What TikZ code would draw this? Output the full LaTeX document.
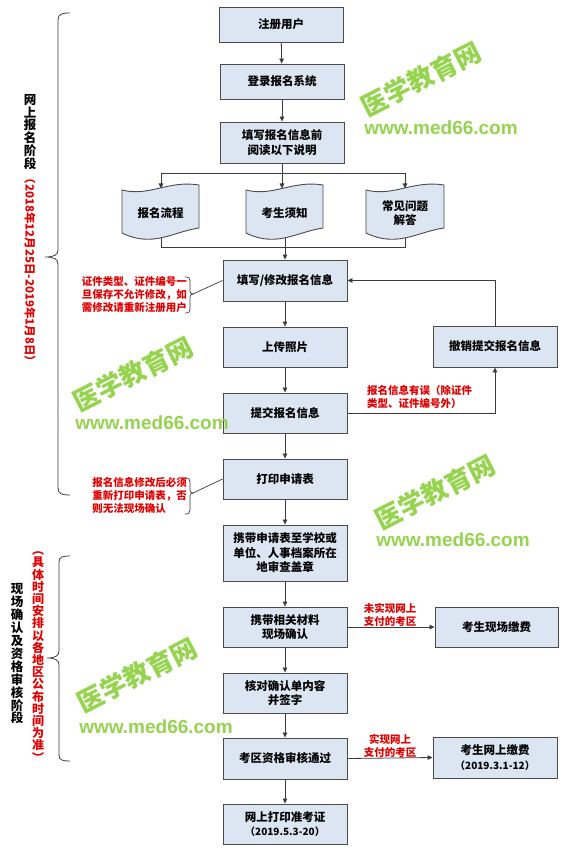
\documentclass[tikz,border=0pt]{standalone}
\usepackage{fontspec}
\setmainfont{Noto Sans CJK SC}
\newfontfamily\wmfont{Liberation Sans}
\usetikzlibrary{arrows.meta}
\definecolor{boxfill}{RGB}{220,230,242}
\definecolor{boxline}{RGB}{75,75,75}
\definecolor{lineclr}{RGB}{60,60,60}
\definecolor{redtxt}{RGB}{225,0,0}
\definecolor{wmgreen}{RGB}{150,212,80}
\tikzset{
  box/.style={draw=boxline, fill=boxfill, line width=0.9pt, minimum width=124pt, minimum height=40pt,
    align=center, inner sep=1pt, font=\fontsize{11.5}{14.5}\selectfont\bfseries},
  arr/.style={draw=lineclr, line width=0.8pt, -{Triangle[length=5pt,width=4.5pt]}},
  ln/.style={draw=lineclr, line width=0.8pt},
  note/.style={text=redtxt, inner sep=0pt, font=\fontsize{10.5}{13}\selectfont\bfseries},
  doc/.style={draw=boxline, fill=boxfill, line width=0.9pt},
  doctext/.style={align=center, inner sep=0pt, font=\fontsize{11.5}{14.5}\selectfont\bfseries},
  stack/.style={align=center, inner sep=0pt},
  wm/.style={text=wmgreen, inner sep=0pt, rotate=27, font=\fontsize{26}{26}\selectfont\bfseries},
  wmurl/.style={text=wmgreen, inner sep=0pt, font=\wmfont\fontsize{19}{19}\selectfont\bfseries}
}
\begin{document}
\begin{tikzpicture}[x=1pt,y=-1pt]
\useasboundingbox[fill=white] (0,0) rectangle (575,850);

% main column
\node[box, minimum height=35pt] (b1) at (281,24.5) {注册用户};
\node[box, minimum height=35pt] (b2) at (282,81.5) {登录报名系统};
\node[box, minimum height=41pt] (b3) at (282,142.5) {填写报名信息前\\阅读以下说明};
\node[box, minimum height=41pt] (b4) at (285,280.5) {填写/修改报名信息};
\node[box] (b5) at (285,347) {上传照片};
\node[box] (b6) at (285,413) {提交报名信息};
\node[box] (b7) at (285,479) {打印申请表};
\node[box, minimum height=56pt] (b8) at (285,553) {携带申请表至学校或\\单位、人事档案所在\\地审查盖章};
\node[box] (b9) at (285,627) {携带相关材料\\现场确认};
\node[box] (b10) at (285,693) {核对确认单内容\\并签字};
\node[box, minimum height=41pt] (b11) at (285,758.5) {考区资格审核通过};
\node[box] (b12) at (285,824) {网上打印准考证\\{\fontsize{10}{13}\selectfont（2019.5.3-20）}};
\node[box, minimum height=41pt] (bx) at (495,346.5) {撤销提交报名信息};
\node[box, minimum width=123pt] (pay1) at (496.5,627) {考生现场缴费};
\node[box, minimum height=41pt] (pay2) at (495,757.5) {考生网上缴费\\{\fontsize{10}{13}\selectfont（2019.3.1-12）}};

% connectors top
\draw[arr] (b1) -- (b2);
\draw[arr] (b2) -- (b3);
\coordinate (sp) at (282,173);
\coordinate (spl) at (161,173);
\coordinate (spr) at (405,173);
\coordinate (jn) at (285,247);
\coordinate (jnl) at (161,247);
\coordinate (jnr) at (405,247);
\draw[ln] (b3.south) -- (sp);
\draw[ln] (spl) -- (spr);
\draw[ln] (161,236) -- (jnl) -- (jnr) -- (405,236);
\draw[ln] (285,236) -- (jn);

% documents
\foreach \x/\w in {122/77, 246/77, 366/78} {
  \draw[doc] (\x,190) .. controls ({\x+0.35*\w},197) and ({\x+0.6*\w},180) .. ({\x+\w},185)
    -- ({\x+\w},228) .. controls ({\x+0.65*\w},232) and ({\x+0.4*\w},248) .. (\x,233) -- cycle;
}
\node[doctext] (d1) at (160.5,213) {报名流程};
\node[doctext] (d2) at (284.5,213) {考生须知};
\node[doctext] (d3) at (405,213) {常见问题\\解答};
\draw[arr] (spl) -- (161,188.5);
\draw[arr] (sp) -- (282,188.5);
\draw[arr] (spr) -- (405,188.5);
\draw[arr] (jn) -- (b4.north);

\draw[arr] (b4) -- (b5);
\draw[arr] (b5) -- (b6);
\draw[arr] (b6) -- (b7);
\draw[arr] (b7) -- (b8);
\draw[arr] (b8) -- (b9);
\draw[arr] (b9) -- (b10);
\draw[arr] (b10) -- (b11);
\draw[arr] (b11) -- (b12);

% loop
\draw[arr] (b6.east) -| (bx.south);
\draw[arr] (bx.north) |- (b4.east);
\node[note, anchor=north west, align=left] (lab1) at (367,385) {报名信息有误（除证件\\类型、证件编号外）};

% payments
\draw[arr] (b9.east) -- (pay1.west);
\draw[arr] (b11.east) -- (pay2.west);
\node[note, anchor=south, align=center] (lab2) at (390,627) {未实现网上\\支付的考区};
\node[note, anchor=south, align=center] (lab3) at (390,758) {实现网上\\支付的考区};

% side notes
\node[note, anchor=east, align=left] (n1) at (187,295) {证件类型、证件编号一\\旦保存不允许修改，如\\需修改请重新注册用户};
\draw[line width=0.7pt, draw=lineclr] (185,277) .. controls (189,277) and (190,278) .. (190,281) -- (190,291) .. controls (190,293) and (191,293.5) .. (193,294)
   .. controls (191,294.5) and (190,295) .. (190,297) -- (190,309) .. controls (190,312) and (189,313) .. (185,313);
\coordinate (n1t) at (193,294);
\draw[ln, line width=0.7pt] (n1t) -- (b4.west);

\node[note, anchor=east, align=left] (n2) at (187,495) {报名信息修改后必须\\重新打印申请表，否\\则无法现场确认};
\draw[line width=0.7pt, draw=lineclr] (185,478) .. controls (189,478) and (190,479) .. (190,482) -- (190,490) .. controls (190,492) and (191,492.5) .. (193,493)
   .. controls (191,493.5) and (190,494) .. (190,496) -- (190,510) .. controls (190,513) and (189,514) .. (185,514);
\coordinate (n2t) at (193,493);
\draw[ln, line width=0.7pt] (n2t) -- (b7.west);

% left braces
\draw[line width=0.8pt, draw=lineclr] (70,13) .. controls (62,13) and (58,14) .. (58,20) -- (58,250)
  .. controls (58,255) and (54,257) .. (45,257) .. controls (54,257) and (58,259) .. (58,264) -- (58,488)
  .. controls (58,494) and (62,495) .. (70,495);
\draw[line width=0.8pt, draw=lineclr] (70,556) .. controls (62,556) and (59,557) .. (59,562) -- (59,651)
  .. controls (59,656) and (55,658) .. (47,658) .. controls (55,658) and (59,660) .. (59,665) -- (59,755)
  .. controls (59,760) and (62,761) .. (70,761);

\node[stack, font=\fontsize{12.5}{12.8}\selectfont\bfseries] (s1) at (30,132) {网\\上\\报\\名\\阶\\段};
\node[inner sep=0pt, rotate=-90, text=redtxt, font=\fontsize{11.5}{12}\selectfont\bfseries] (s2) at (30,270) {（2018年12月25日-2019年1月8日）};
\node[stack, font=\fontsize{12.5}{12.9}\selectfont\bfseries] (s3) at (17,654) {现\\场\\确\\认\\及\\资\\格\\审\\核\\阶\\段};
\node[stack, text=redtxt, font=\fontsize{12}{12.2}\selectfont\bfseries] (s4) at (38,657) {︵\\具\\体\\时\\间\\安\\排\\以\\各\\地\\区\\公\\布\\时\\间\\为\\准\\︶};

% watermarks
\node[wm] (w1) at (421,79) {医学教育网};
\node[wmurl] (u1) at (441,128) {www.med66.com};
\node[wm] (w2) at (133,374) {医学教育网};
\node[wmurl] (u2) at (152,423) {www.med66.com};
\node[wm] (w3) at (435,492) {医学教育网};
\node[wmurl] (u3) at (453,540) {www.med66.com};
\node[wm] (w4) at (137,675) {医学教育网};
\node[wmurl] (u4) at (156,727) {www.med66.com};
\end{tikzpicture}
\end{document}
